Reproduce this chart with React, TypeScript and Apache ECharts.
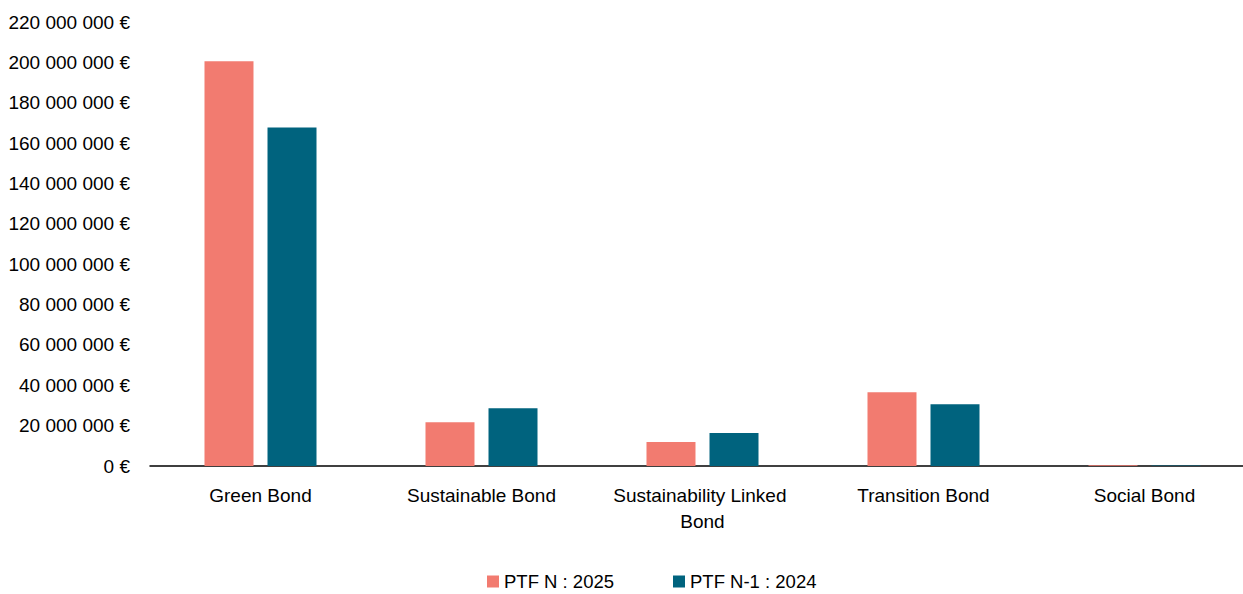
import React, { useEffect, useRef } from "react";
import * as echarts from "echarts";

const categories = ["Green Bond", "Sustainable Bond", "Sustainability Linked Bond", "Transition Bond", "Social Bond"];
const seriesNames = ["PTF N : 2025", "PTF N-1 : 2024"];
const ptfN2025 = [200500000, 21700000, 11900000, 36600000, 400000];
const ptfN12024 = [167700000, 28600000, 16400000, 30600000, 300000];
const colors = ["#F27B70", "#00637E"];

const FONT = "'Liberation Sans', Arial, sans-serif";

function fmt(v: number): string {
  const s = Math.round(v).toString().replace(/\B(?=(\d{3})+(?!\d))/g, " ");
  return s + " €";
}

export default function App() {
  const ref = useRef<HTMLDivElement>(null);
  useEffect(() => {
    if (!ref.current) return;
    const chart = echarts.init(ref.current, undefined, { renderer: "svg" });
    chart.setOption({
      animation: false,
      textStyle: { fontFamily: FONT },
      grid: { left: 150, right: 0, top: 22, bottom: 128, containLabel: false },
      legend: {
        left: 487,
        top: 572,
        padding: 0,
        itemWidth: 12,
        itemHeight: 12,
        itemGap: 59,
        itemTextGap: 6,
        icon: "rect",
        textStyle: { fontSize: 18.5, lineHeight: 18, color: "#000", fontFamily: FONT },
        data: seriesNames,
      },
      xAxis: {
        type: "category",
        data: categories,
        axisLine: { lineStyle: { color: "#000", width: 1.5 } },
        axisTick: { show: false },
        axisLabel: {
          fontSize: 19,
          color: "#000",
          fontFamily: FONT,
          margin: 16,
          width: 205,
          overflow: "break",
          lineHeight: 26,
          interval: 0,
        },
      },
      yAxis: {
        type: "value",
        min: 0,
        max: 220000000,
        interval: 20000000,
        axisLine: { show: false },
        axisTick: { show: false },
        splitLine: { show: false },
        axisLabel: {
          fontSize: 19,
          color: "#000",
          fontFamily: FONT,
          margin: 20,
          formatter: (v: number) => fmt(v),
        },
      },
      series: [
        {
          name: seriesNames[0],
          type: "bar",
          data: ptfN2025,
          barWidth: 49,
          barGap: "28.6%",
          itemStyle: { color: colors[0] },
        },
        {
          name: seriesNames[1],
          type: "bar",
          data: ptfN12024,
          barWidth: 49,
          barGap: "28.6%",
          itemStyle: { color: colors[1] },
        },
      ],
    });
    return () => chart.dispose();
  }, []);
  return (
    <div
      ref={ref}
      style={{ position: "fixed", left: 0, top: 0, width: 1255, height: 594, background: "#fff" }}
    />
  );
}
